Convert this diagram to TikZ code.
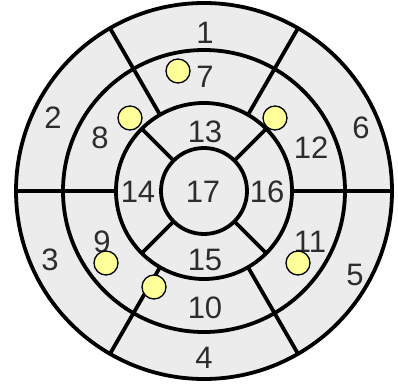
\documentclass[tikz,border=0pt]{standalone}
\usepackage{fontspec}
\setmainfont{Liberation Sans}
\definecolor{segfill}{RGB}{236,236,236}
\definecolor{dotfill}{RGB}{255,255,153}
\definecolor{numcol}{RGB}{45,45,45}
\begin{document}
\begin{tikzpicture}[x=1pt,y=-1pt,
  ring/.style={line width=3.8pt},
  divider/.style={line width=3.8pt},
  lbl/.style={font=\fontsize{31}{31}\selectfont, text=numcol, inner sep=0pt},
  dot/.style={circle, draw=black, line width=1.3pt, fill=dotfill, minimum size=24pt, inner sep=0pt}]
\useasboundingbox (0,0) rectangle (398,387);
\coordinate (c) at (204,191);
\fill[segfill] (c) circle (188pt);
% dividers
\foreach \a in {0,60,...,300}
  \draw[divider] ([shift={(\a:88)}]c) -- ([shift={(\a:188)}]c);
\foreach \a in {45,135,225,315}
  \draw[divider] ([shift={(\a:43)}]c) -- ([shift={(\a:88)}]c);
% rings
\draw[ring] (c) circle (188pt);
\draw[ring] (c) circle (141pt);
\draw[ring] (c) circle (88pt);
\draw[ring] (c) circle (43pt);
% labels
\node[lbl] (s1) at (205,33) {1};
\node[lbl] (s2) at (53,118) {2};
\node[lbl] (s3) at (50,260) {3};
\node[lbl] (s4) at (204,358) {4};
\node[lbl] (s5) at (355,275) {5};
\node[lbl] (s6) at (361,128) {6};
\node[lbl] (s7) at (205,77) {7};
\node[lbl] (s8) at (100,138) {8};
\node[lbl] (s9) at (102,242) {9};
\node[lbl] (s10) at (205,308) {10};
\node[lbl] (s11) at (310,242) {11};
\node[lbl] (s12) at (311,148) {12};
\node[lbl] (s13) at (205,132) {13};
\node[lbl] (s14) at (138,192) {14};
\node[lbl] (s15) at (205,260) {15};
\node[lbl] (s16) at (267,192) {16};
\node[lbl] (s17) at (203,192) {17};
% dots
\node[dot] (d7) at (178,71) {};
\node[dot] (d8) at (130,118) {};
\node[dot] (d12) at (275,118) {};
\node[dot] (d9) at (106,263) {};
\node[dot] (d10) at (154,287) {};
\node[dot] (d11) at (298,263) {};
\end{tikzpicture}
\end{document}
